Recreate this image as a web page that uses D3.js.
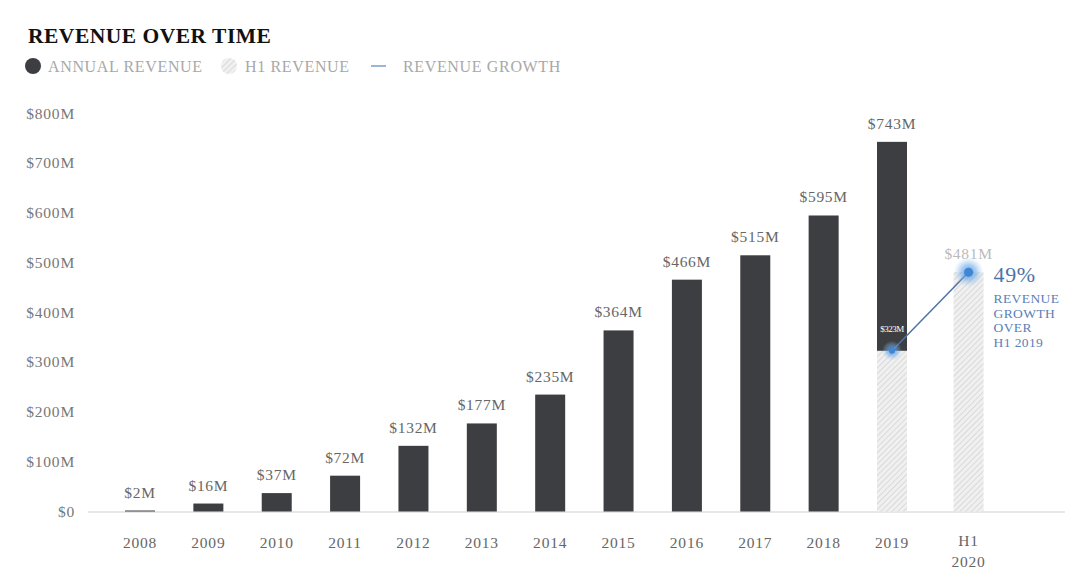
<!DOCTYPE html>
<html><head><meta charset="utf-8">
<script src="https://cdn.jsdelivr.net/npm/d3@7"></script>
<style>body{margin:0;background:#fff;}svg{display:block;}</style>
</head><body>
<script>
const categories = ["2008","2009","2010","2011","2012","2013","2014","2015","2016","2017","2018","2019","H1 2020"];
const annualRevenue = [2,16,37,72,132,177,235,364,466,515,595,743,null];
const h1Revenue = [null,null,null,null,null,null,null,null,null,null,null,323,481];
const yTicks = [0,100,200,300,400,500,600,700,800];
const growthLabel = "49%";
const growthText = ["REVENUE","GROWTH","OVER","H1 2019"];

const W=1080,H=582;
const svg=d3.select("body").append("svg").attr("width",W).attr("height",H);
const serif="'Liberation Serif','Times New Roman',serif";
const defs=svg.append("defs");
const pat=defs.append("pattern").attr("id","hatch").attr("patternUnits","userSpaceOnUse")
  .attr("width",4).attr("height",4).attr("patternTransform","rotate(45)");
pat.append("rect").attr("width",4).attr("height",4).attr("fill","#f0f0f0");
pat.append("line").attr("x1",0).attr("y1",0).attr("x2",0).attr("y2",4).attr("stroke","#d3d3d3").attr("stroke-width",1.6);
const glow=defs.append("radialGradient").attr("id","glow");
glow.append("stop").attr("offset","0%").attr("stop-color","#4a90d9").attr("stop-opacity",0.9);
glow.append("stop").attr("offset","50%").attr("stop-color","#6aa8e6").attr("stop-opacity",0.55);
glow.append("stop").attr("offset","100%").attr("stop-color","#9cc6f0").attr("stop-opacity",0);

const y=d3.scaleLinear().domain([0,800]).range([511.5,113.5]);
const xp=d3.scalePoint().domain(categories.slice(0,-1)).range([140,892]);
const step=xp.step();
const xPos=c=> c==="H1 2020" ? xp("2019")+step*1.12 : xp(c);
const bw=30;

// title
svg.append("text").attr("x",28).attr("y",43).attr("font-family",serif).attr("font-weight","bold")
  .attr("font-size",21.5).attr("letter-spacing",0.5).attr("fill","#111").text("REVENUE OVER TIME");
// legend
const lg=svg.append("g").attr("font-family",serif).attr("font-size",16).attr("letter-spacing",0.65).attr("fill","#a8a8a8");
lg.append("circle").attr("cx",33).attr("cy",66).attr("r",8).attr("fill","#3d3e42");
lg.append("text").attr("x",48).attr("y",71.5).text("ANNUAL REVENUE");
lg.append("circle").attr("cx",229).attr("cy",66).attr("r",8).attr("fill","url(#hatch)");
lg.append("text").attr("x",245).attr("y",71.5).text("H1 REVENUE");
lg.append("line").attr("x1",371).attr("x2",386).attr("y1",66).attr("y2",66).attr("stroke","#7a9cc8").attr("stroke-width",1.5);
lg.append("text").attr("x",403).attr("y",71.5).text("REVENUE GROWTH");

// y axis labels
svg.append("g").selectAll("text").data(yTicks).join("text")
  .attr("x",75).attr("y",d=>y(d)+5).attr("text-anchor","end")
  .attr("font-family",serif).attr("font-size",15.5).attr("letter-spacing",0.8).attr("fill","#777")
  .text(d=>d===0?"$0":`$${d}M`);

// baseline
svg.append("line").attr("x1",88).attr("x2",1065).attr("y1",y(0)+0.5).attr("y2",y(0)+0.5)
  .attr("stroke","#cfcfcf").attr("stroke-width",1.2);

const data=categories.map((c,i)=>({c,a:annualRevenue[i],h:h1Revenue[i]}));
// hatched H1 bars
svg.append("g").selectAll("rect").data(data.filter(d=>d.h!=null)).join("rect")
  .attr("x",d=>xPos(d.c)-bw/2).attr("width",bw)
  .attr("y",d=>y(d.h)).attr("height",d=>y(0)-y(d.h)).attr("fill","url(#hatch)");
// annual bars (above H1 part when present)
svg.append("g").selectAll("rect").data(data.filter(d=>d.a!=null)).join("rect")
  .attr("x",d=>xPos(d.c)-bw/2).attr("width",bw)
  .attr("y",d=>y(d.a)).attr("height",d=>y(d.h!=null?d.h:0)-y(d.a)).attr("fill","#3d3e42");

// value labels
svg.append("g").selectAll("text").data(data).join("text")
  .attr("x",d=>xPos(d.c)).attr("y",d=>y(d.a!=null?d.a:d.h)-13).attr("text-anchor","middle")
  .attr("font-family",serif).attr("font-size",15.5).attr("letter-spacing",0.7).attr("fill",d=>d.a!=null?"#666":"#bbb")
  .text(d=>`$${d.a!=null?d.a:d.h}M`);
// inner 2019 H1 label
const d19=data.find(d=>d.c==="2019");
svg.append("text").attr("x",xPos("2019")).attr("y",y(d19.h)-19).attr("text-anchor","middle")
  .attr("font-family",serif).attr("font-size",9).attr("fill","#fff").attr("letter-spacing",-0.5).text(`$${d19.h}M`);

// x labels
const xl=svg.append("g").attr("font-family",serif).attr("font-size",15.5).attr("letter-spacing",0.8).attr("fill","#666");
categories.forEach(c=>{
  const parts=c.split(" ");
  const t=xl.append("text").attr("x",xPos(c)).attr("text-anchor","middle").attr("y",parts.length>1?546:548);
  parts.forEach((p,i)=>t.append("tspan").attr("x",xPos(c)).attr("dy",i?21:0).text(p));
});

// growth line
const gpts=data.filter(d=>d.h!=null).map(d=>[xPos(d.c),y(d.h)]);
svg.append("path").attr("d",d3.line()(gpts)).attr("fill","none").attr("stroke","#4e73a8").attr("stroke-width",1.5);
gpts.forEach((p,i)=>{
  svg.append("circle").attr("cx",p[0]).attr("cy",p[1]).attr("r",i?15:10).attr("fill","url(#glow)");
  svg.append("circle").attr("cx",p[0]).attr("cy",p[1]).attr("r",i?4.5:3).attr("fill","#3f86d4");
});
const last=gpts[gpts.length-1];
svg.append("text").attr("x",last[0]+25).attr("y",last[1]+10).attr("font-family",serif)
  .attr("font-size",22).attr("letter-spacing",0.6).attr("fill","#4e73a8").text(growthLabel);
svg.append("g").selectAll("text").data(growthText).join("text")
  .attr("x",last[0]+25).attr("y",(d,i)=>last[1]+31+i*14.5)
  .attr("font-family",serif).attr("font-size",13.5).attr("letter-spacing",0.4).attr("fill","#5a80b8").text(d=>d);
</script>
</body></html>
